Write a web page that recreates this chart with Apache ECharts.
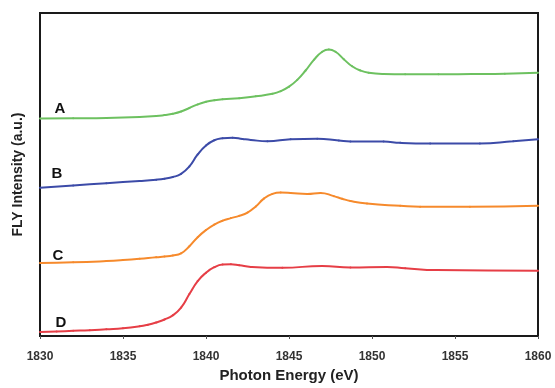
<!DOCTYPE html>
<html lang="en" style="height: 100%">
<head>
<meta charset="utf-8">
<title>FLY spectra</title>
</head>
<body style="height: 100%; margin: 0; background: #fff">
<div id="container" style="height: 100%"></div>
<script type="text/javascript" src="https://cdn.jsdelivr.net/npm/echarts@6/dist/echarts.min.js"></script>
<script type="text/javascript">
var dom = document.getElementById('container');
var myChart = echarts.init(dom);

// energy (eV), intensity (a.u., offset per spectrum)
var energyA = [1830, 1832, 1834, 1836, 1837, 1837.5, 1838, 1838.5, 1839, 1839.5, 1840, 1840.5, 1841, 1842, 1843, 1844, 1844.5, 1845, 1845.5, 1846, 1846.5, 1847, 1847.4, 1847.8, 1848.3, 1848.8, 1849.3, 1849.8, 1850.7, 1852, 1854, 1856, 1858, 1860];
var valuesA = [6.73, 6.74, 6.75, 6.78, 6.81, 6.84, 6.88, 6.95, 7.06, 7.17, 7.25, 7.30, 7.33, 7.36, 7.42, 7.50, 7.58, 7.72, 7.93, 8.22, 8.55, 8.80, 8.87, 8.80, 8.57, 8.35, 8.22, 8.15, 8.11, 8.10, 8.10, 8.11, 8.12, 8.15];

var energyB = [1830, 1832, 1834, 1836, 1837, 1837.5, 1838, 1838.5, 1839, 1839.5, 1840, 1840.5, 1841, 1841.6, 1842.2, 1842.7, 1843.7, 1845.1, 1846.7, 1848, 1848.7, 1850.7, 1851.7, 1853.5, 1856.5, 1858.5, 1860];
var valuesB = [4.59, 4.66, 4.73, 4.80, 4.84, 4.87, 4.92, 5.02, 5.25, 5.62, 5.90, 6.06, 6.12, 6.14, 6.10, 6.07, 6.03, 6.09, 6.11, 6.05, 6.02, 6.02, 5.98, 5.96, 5.96, 6.03, 6.09];

var energyC = [1830, 1832, 1834, 1835, 1836, 1837, 1837.5, 1838, 1838.5, 1839, 1839.5, 1840, 1840.5, 1841, 1841.5, 1842, 1842.5, 1843, 1843.5, 1844, 1844.5, 1845.1, 1846.1, 1846.9, 1847.7, 1848.2, 1848.7, 1849.7, 1851.7, 1852.9, 1855.9, 1860];
var valuesC = [2.26, 2.28, 2.32, 2.35, 2.39, 2.44, 2.46, 2.49, 2.56, 2.78, 3.06, 3.28, 3.45, 3.57, 3.65, 3.72, 3.82, 4.01, 4.26, 4.40, 4.44, 4.43, 4.40, 4.43, 4.33, 4.25, 4.18, 4.10, 4.03, 4.00, 4.00, 4.03];

var energyD = [1830, 1831, 1832, 1833, 1834, 1835, 1836, 1836.5, 1837, 1837.5, 1838, 1838.5, 1839, 1839.5, 1840, 1840.5, 1841, 1841.5, 1842, 1842.7, 1844.6, 1847, 1848.7, 1850.9, 1852, 1853.9, 1860];
var valuesD = [0.12, 0.14, 0.16, 0.18, 0.21, 0.24, 0.30, 0.35, 0.42, 0.51, 0.64, 0.88, 1.30, 1.70, 1.96, 2.13, 2.21, 2.22, 2.19, 2.14, 2.11, 2.17, 2.12, 2.14, 2.10, 2.04, 2.02];

var xTicks = [1830, 1835, 1840, 1845, 1850, 1855, 1860];

function pairs(xs, ys, name, offset) {
    return xs.map(function (x, i) {
        if (i === 0) {
            return {
                value: [x, ys[i]],
                label: {
                    show: true,
                    position: 'top',
                    distance: 5,
                    offset: offset,
                    formatter: name,
                    color: '#111',
                    fontSize: 15,
                    fontWeight: 'bold',
                    fontFamily: 'Liberation Sans'
                }
            };
        }
        return [x, ys[i]];
    });
}

function spectrum(name, xs, ys, color, offset) {
    return {
        name: name,
        type: 'line',
        smooth: 0.5,
        showSymbol: true,
        showAllSymbol: true,
        symbol: 'circle',
        symbolSize: 2,
        data: pairs(xs, ys, name, offset),
        label: { show: false },
        lineStyle: { color: color, width: 2 },
        itemStyle: { color: color },
        silent: true
    };
}

var option = {
    animation: false,
    grid: {
        left: 40, right: 17, top: 13, bottom: 48,
        show: true, borderColor: '#1a1a1a', borderWidth: 2
    },
    xAxis: {
        type: 'value',
        min: xTicks[0],
        max: xTicks[xTicks.length - 1],
        interval: 5,
        name: 'Photon Energy (eV)',
        nameLocation: 'middle',
        nameGap: 32,
        nameTextStyle: { fontSize: 15, fontWeight: 'bold', color: '#222', fontFamily: 'Liberation Sans' },
        axisLine: { lineStyle: { color: '#1a1a1a', width: 2 } },
        axisTick: { show: true, length: 3, lineStyle: { color: '#555' } },
        axisLabel: {
            margin: 15, fontSize: 12, fontWeight: 'bold', color: '#333', fontFamily: 'Liberation Sans',
            formatter: function (v) { return String(v); }
        },
        splitLine: { show: false }
    },
    yAxis: {
        type: 'value',
        min: 0,
        max: 10,
        name: 'FLY Intensity (a.u.)',
        nameLocation: 'middle',
        nameGap: 15,
        nameTextStyle: { fontSize: 14, fontWeight: 'bold', color: '#222', fontFamily: 'Liberation Sans' },
        axisLine: { show: true, lineStyle: { color: '#1a1a1a', width: 2 } },
        axisTick: { show: false },
        axisLabel: { show: false },
        splitLine: { show: false }
    },
    series: [
        spectrum('A', energyA, valuesA, '#6dc160', [20, 4]),
        spectrum('B', energyB, valuesB, '#3c4ba8', [17, 0]),
        spectrum('C', energyC, valuesC, '#f68a2c', [18, 6]),
        spectrum('D', energyD, valuesD, '#e63e46', [21, 4])
    ]
};

myChart.setOption(option);
window.addEventListener('resize', myChart.resize);
</script>
</body>
</html>
